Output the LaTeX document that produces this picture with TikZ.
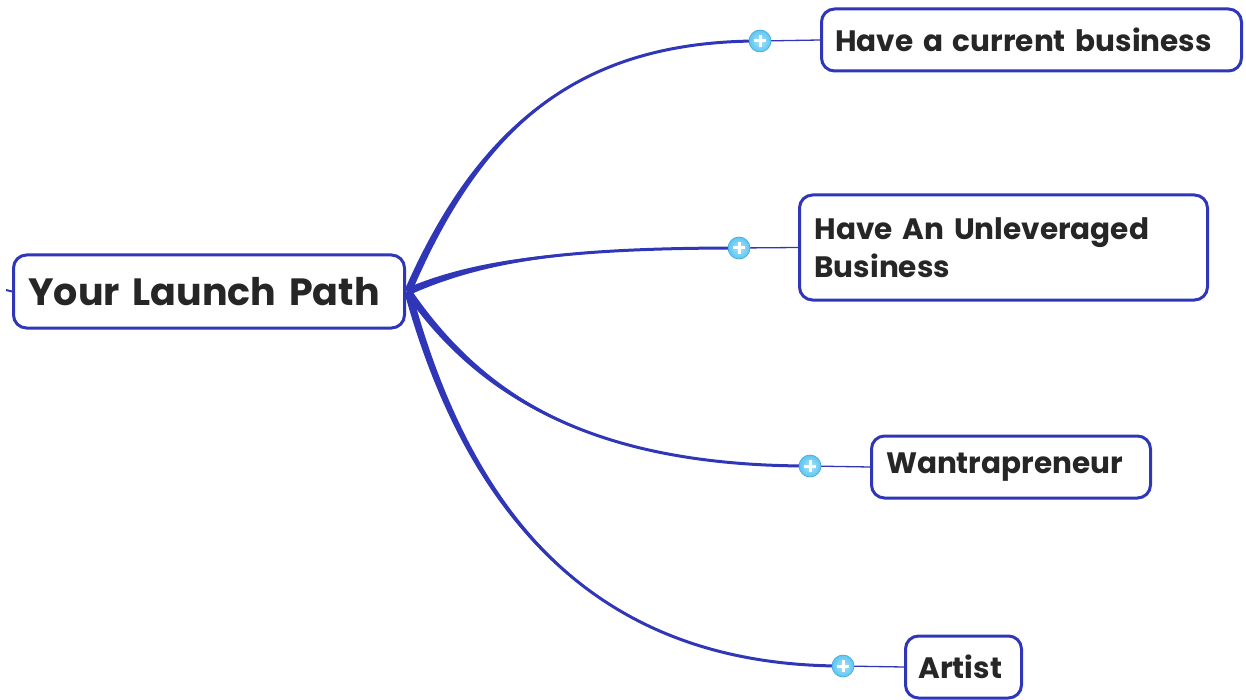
\documentclass[tikz,border=0pt]{standalone}
\usepackage{fontspec}
\setmainfont{Poppins}
\usetikzlibrary{shadings,calc}
\definecolor{branchblue}{HTML}{2F36B8}
\definecolor{inktext}{HTML}{262626}
\definecolor{knobblue}{HTML}{5CC6F2}
\definecolor{knobedge}{HTML}{3FA6DA}
\pgfdeclarelayer{links}
\pgfsetlayers{links,main}
\tikzset{
  topic/.style={draw=branchblue, line width=3pt, rounded corners=13pt, fill=white,
    anchor=west, align=left, inner xsep=0pt, inner ysep=0pt, text=inktext,
    font=\bfseries},
  subfont/.style={font=\bfseries\fontsize{29.5}{38}\selectfont},
  branchcore/.style={draw=branchblue, line width=3pt, line cap=round},
  branchbody/.style={fill=branchblue},
  twig/.style={draw=branchblue, line width=1.3pt},
  knob/.style={circle, minimum size=22pt, inner sep=0pt, draw=knobedge, line width=0.6pt,
    inner color=knobblue!50, outer color=knobblue,
    path picture={\draw[white, line width=3pt]
      ([xshift=-6pt]path picture bounding box.center) -- ([xshift=6pt]path picture bounding box.center)
      ([yshift=-6pt]path picture bounding box.center) -- ([yshift=6pt]path picture bounding box.center);}}
}
% tapered branch: #1 target, #2 first control, #3 second control, #4 half-width offset at the root
\newcommand{\taperbranch}[4]{%
  \fill[branchbody] ($(hub)+(#4)$) .. controls ($(#2)+0.7*(#4)$) and (#3) .. (#1.center)
     .. controls (#3) and ($(#2)-0.7*(#4)$) .. ($(hub)-(#4)$) -- cycle;
  \draw[branchcore] (hub) .. controls (#2) and (#3) .. (#1.center);}
\begin{document}
\begin{tikzpicture}[x=1pt, y=-1pt]
\useasboundingbox (0,0) rectangle (1246,700);

% central topic
\node[topic, minimum width=391pt, minimum height=73pt, text width=385pt, font=\bfseries\fontsize{38}{42}\selectfont]
  (root) at (12,291.5) {\hspace*{12pt}Your Launch Path};

% subtopics
\node[topic, subfont, minimum width=420pt, minimum height=62pt, text width=415pt]
  (n1) at (820,40) {\hspace*{11pt}Have a current business};
\node[topic, subfont, minimum width=408pt, minimum height=105pt, text width=400pt]
  (n2) at (798,247.5) {\hspace*{11pt}Have An Unleveraged\\\hspace*{11pt}Business};
\node[topic, subfont, minimum width=279pt, minimum height=62pt, text width=270pt]
  (n3) at (870,467) {\hspace*{10pt}Wantrapreneur};
\node[topic, subfont, minimum width=116pt, minimum height=62pt, text width=110pt]
  (n4) at (904,667) {\hspace*{10pt}Artist};

% collapse knobs
\node[knob] (p1) at (760,41) {};
\node[knob] (p2) at (739,248) {};
\node[knob] (p3) at (810,466) {};
\node[knob] (p4) at (843,666) {};

\begin{pgfonlayer}{links}
\coordinate (hub) at ($(root.east)+(2,0)$);
% branches from the central topic
\coordinate (stub) at (6,290);
\draw[twig, line width=2pt] (stub) -- (root.west);
\taperbranch{p1}{480,125}{580,41}{3.4,1.5}
\taperbranch{p2}{480,260}{570,248}{1,3.6}
\taperbranch{p3}{480,395}{590,466}{2.6,-2.6}
\taperbranch{p4}{470,520}{600,666}{3.5,-1.3}

% short links into each subtopic
\draw[twig] (p1.center) -- (n1.west);
\draw[twig] (p2.center) -- (n2.west);
\draw[twig] (p3.center) -- (n3.west);
\draw[twig] (p4.center) -- (n4.west);
\end{pgfonlayer}
\end{tikzpicture}
\end{document}
